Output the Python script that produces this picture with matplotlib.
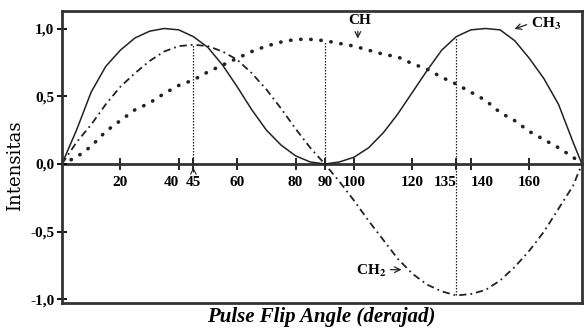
import matplotlib
matplotlib.use('Agg')
import matplotlib.pyplot as plt

plt.rcParams['font.family'] = ['Liberation Serif', 'DejaVu Serif']
plt.rcParams['mathtext.fontset'] = 'stix'

# sudut pulsa (derajat) dan intensitas yang dibaca dari gambar
angles = [0, 5, 10, 15, 20, 25, 30, 35, 40, 45, 50, 55, 60, 65, 70, 75, 80, 85, 90,
          95, 100, 105, 110, 115, 120, 125, 130, 135, 140, 145, 150, 155, 160,
          165, 170, 175, 178]
ch3 = [0, 0.25, 0.53, 0.72, 0.84, 0.93, 0.98, 1.0, 0.99, 0.94, 0.86, 0.73, 0.57,
       0.40, 0.25, 0.14, 0.06, 0.015, 0, 0.015, 0.05, 0.12, 0.23, 0.37, 0.53,
       0.69, 0.84, 0.94, 0.99, 1.0, 0.99, 0.91, 0.78, 0.63, 0.44, 0.16, 0]
ch2 = [0, 0.16, 0.29, 0.44, 0.57, 0.67, 0.76, 0.83, 0.87, 0.88, 0.87, 0.83, 0.77,
       0.67, 0.55, 0.41, 0.26, 0.12, 0, -0.13, -0.27, -0.42, -0.56, -0.70, -0.81,
       -0.89, -0.94, -0.97, -0.96, -0.93, -0.86, -0.76, -0.64, -0.50, -0.33, -0.16, 0]
ch = [0, 0.05, 0.13, 0.24, 0.32, 0.40, 0.45, 0.52, 0.58, 0.62, 0.68, 0.73, 0.78,
      0.83, 0.87, 0.90, 0.92, 0.92, 0.91, 0.89, 0.87, 0.84, 0.81, 0.79, 0.74,
      0.70, 0.64, 0.59, 0.53, 0.47, 0.38, 0.32, 0.24, 0.18, 0.12, 0.05, 0]

xticks = [20, 40, 45, 60, 80, 90, 100, 120, 135, 140, 160]
yticks = [-1.0, -0.5, 0.0, 0.5, 1.0]
ytick_labels = ['-1,0', '-0,5', '0,0', '0,5', '1,0']
# garis bantu vertikal: (sudut, y bawah, y atas)
guides = [(45, 0, 0.88), (90, 0, 0.91), (135, -0.97, 0.94)]

ymin, ymax = -1.026, 1.129

fig = plt.figure(figsize=(5.84, 3.32), dpi=100)
ax = fig.add_axes([0.106, 0.0873, 0.8904, 0.8795])

ax.plot(angles, ch3, color='#222222', lw=1.1)
ax.plot(angles, ch2, color='#222222', lw=1.3, dashes=(4, 2.2, 1, 2.2))
ax.plot(angles, ch, color='#222222', lw=2.6, dashes=(0.1, 2.7),
        dash_capstyle='round')

for x, y0, y1 in guides:
    ax.vlines(x, y0, y1, colors='#222222', lw=0.9, linestyles=(0, (1.2, 1.2)))

ax.set_xlim(0, 178)
ax.set_ylim(ymin, ymax)

for spine in ax.spines.values():
    spine.set_edgecolor('#333333')
    spine.set_linewidth(2)

ax.set_xticks([])
ax.set_yticks(yticks)
ax.set_yticklabels(ytick_labels, fontsize=11, fontweight='bold')
ax.tick_params(axis='y', direction='inout', length=7, width=1.3, pad=2)

# sumbu nol dengan label sudut
sec = ax.secondary_xaxis((0 - ymin) / (ymax - ymin))
sec.spines['bottom'].set_linewidth(2)
sec.spines['bottom'].set_edgecolor('#333333')
sec.set_xticks(xticks)
sec.set_xticklabels([str(t) for t in xticks], fontsize=11, fontweight='bold')
sec.tick_params(direction='inout', length=8, width=1.2, pad=5)
for lab in sec.get_xticklabels():
    if lab.get_text() in ('40', '135'):
        lab.set_ha('right')
    elif lab.get_text() == '140':
        lab.set_ha('left')

ax.annotate('', xy=(45, -0.005), xytext=(45, -0.08),
            arrowprops=dict(arrowstyle='->', color='#222222', lw=0.8))

ax.text(102, 1.06, 'CH', fontsize=11, fontweight='bold', ha='center', va='center')
ax.annotate('', xy=(101.3, 0.905), xytext=(101.3, 1.0),
            arrowprops=dict(arrowstyle='->', color='#222222', lw=0.9))
ax.text(160.5, 1.03, 'CH$_\\mathbf{3}$', fontsize=11, fontweight='bold',
        ha='left', va='center')
ax.annotate('', xy=(154, 0.99), xytext=(160, 1.035),
            arrowprops=dict(arrowstyle='->', color='#222222', lw=0.9))
ax.text(111, -0.79, 'CH$_\\mathbf{2}$', fontsize=11, fontweight='bold',
        ha='right', va='center')
ax.annotate('', xy=(117.2, -0.78), xytext=(111.5, -0.78),
            arrowprops=dict(arrowstyle='->', color='#222222', lw=0.9))

fig.text(0.026, 0.50, 'Intensitas', rotation=90, fontsize=13,
         family='DejaVu Serif', ha='center', va='center')
fig.text(0.55, 0.045, 'Pulse Flip Angle (derajad)', fontsize=15,
         fontweight='bold', fontstyle='italic', ha='center', va='center')

fig.savefig('out.png', dpi=100)
